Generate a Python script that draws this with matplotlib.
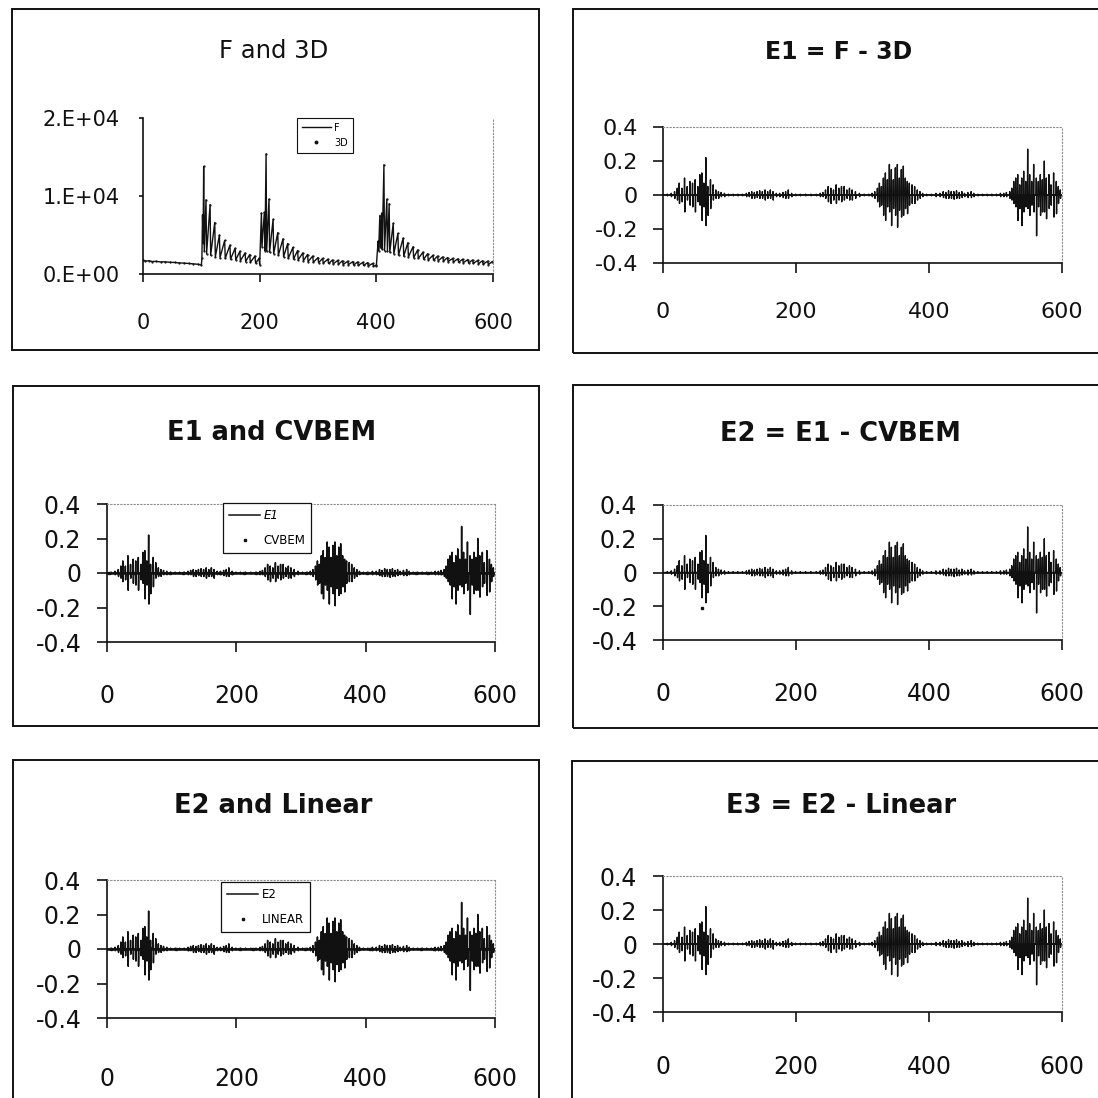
import matplotlib
matplotlib.use("Agg")
import matplotlib.pyplot as plt
from matplotlib.patches import Rectangle

# ---------------- data ----------------
# F: flat start, then three sawtooth cycles (trough -> peak pairs)
f_base_x = [0, 4, 10, 16, 22, 30, 38, 46, 54, 62, 70, 78, 86, 94, 100]
f_base_y = [1800, 1650, 1700, 1600, 1620, 1550, 1560, 1500, 1480, 1420, 1400, 1350, 1300, 1250, 1150]

f_trough_x = [101, 103, 105, 109, 116, 124, 132, 141, 150, 159, 167, 176, 184, 193,
              200, 204, 209, 212, 217, 224, 232, 241, 249, 258, 266, 275, 283, 292, 301,
              309, 318, 326, 335, 343, 352, 361, 369, 378, 386, 395,
              400, 404, 407, 410, 414, 419, 423, 430, 438, 447, 455, 464, 472, 481, 489,
              498, 506, 515, 523, 532, 541, 549, 558, 566, 575, 583, 592]
f_trough_y = [2000, 4000, 3000, 2600, 2400, 2200, 2100, 2000, 1900, 1800, 1700, 1600, 1500, 1400,
              1200, 3500, 3000, 3000, 2800, 2600, 2400, 2200, 2000, 1900, 1800, 1700, 1600, 1500, 1450,
              1400, 1350, 1300, 1250, 1200, 1200, 1150, 1100, 1100, 1050, 1000,
              1000, 3000, 3500, 3200, 3000, 3000, 2800, 2600, 2400, 2300, 2200, 2100, 2000, 1900, 1800,
              1750, 1700, 1650, 1600, 1550, 1500, 1450, 1400, 1350, 1300, 1250, 1200]
f_peak_x = [102, 104, 108, 115, 123, 131, 140, 149, 158, 166, 175, 183, 192, 199,
            203, 208, 211, 216, 223, 231, 240, 248, 257, 265, 274, 282, 291, 300, 308,
            317, 325, 334, 342, 351, 360, 368, 377, 385, 394, 399,
            403, 406, 409, 413, 418, 422, 429, 437, 446, 454, 463, 471, 480, 488, 497,
            505, 514, 522, 531, 540, 548, 557, 565, 574, 582, 591, 599]
f_peak_y = [7600, 13800, 9500, 8900, 6600, 5000, 4300, 3700, 3300, 2900, 2700, 2500, 2300, 2000,
            7800, 7900, 15400, 9600, 7000, 5300, 4500, 3900, 3400, 3000, 2700, 2500, 2300, 2100, 2000,
            1900, 1800, 1750, 1700, 1650, 1600, 1550, 1500, 1450, 1350, 1100,
            4200, 7500, 7800, 14000, 9600, 9000, 6500, 5200, 4600, 4000, 3500, 3100, 2800, 2600, 2400,
            2300, 2200, 2100, 2000, 1950, 1900, 1850, 1800, 1750, 1700, 1650, 1600]

# E1 (and the visually identical E2, E3): spikes (position, upper value, lower value)
e1_spike_x = [0, 6, 12,
              17, 21, 24, 28, 32, 36, 40, 44, 48, 52, 55, 58, 61, 64, 67, 71, 75, 79, 83, 87,
              92, 98, 105, 112, 119, 125,
              129, 133, 137, 141, 145, 149, 153, 157, 161, 165, 170, 175, 180, 184, 188, 193,
              199, 206, 214, 222, 230, 236, 240,
              244, 248, 252, 256, 260, 264, 268, 272, 276, 280, 284, 289,
              295, 302, 309, 314,
              318, 322, 325, 328, 331, 334, 337, 340, 343, 346, 349, 352, 355, 358, 361, 364, 367,
              370, 374, 378, 382, 386, 390,
              396, 403, 410, 416,
              421, 425, 429, 433, 437, 441, 445, 449, 453, 458, 463, 467,
              473, 480, 487, 494, 501, 507, 512, 516,
              521, 524, 527, 530, 533, 536, 539, 542, 545, 548, 551, 554, 557, 561, 564, 567, 570,
              573, 576, 580, 583, 587, 591, 594, 597]
e1_hi = [0.0, 0.005, 0.01,
         0.02, 0.04, 0.07, 0.04, 0.1, 0.05, 0.08, 0.07, 0.09, 0.05, 0.12, 0.13, 0.07, 0.22, 0.05,
         0.09, 0.06, 0.03, 0.02, 0.015,
         0.01, 0.005, 0.005, 0.005, 0.005, 0.01,
         0.015, 0.02, 0.015, 0.02, 0.025, 0.02, 0.03, 0.02, 0.03, 0.02, 0.01, 0.01, 0.015, 0.02,
         0.03, 0.01,
         0.005, 0.005, 0.005, 0.005, 0.005, 0.01, 0.015,
         0.03, 0.05, 0.04, 0.03, 0.06, 0.04, 0.05, 0.05, 0.03, 0.04, 0.03, 0.02,
         0.01, 0.005, 0.005, 0.01,
         0.02, 0.04, 0.07, 0.05, 0.1, 0.13, 0.09, 0.18, 0.15, 0.09, 0.16, 0.18, 0.1, 0.15, 0.17,
         0.1, 0.08, 0.07, 0.06, 0.05, 0.03, 0.02, 0.01,
         0.005, 0.005, 0.01, 0.01,
         0.02, 0.015, 0.025, 0.02, 0.02, 0.025, 0.015, 0.02, 0.01, 0.015, 0.02, 0.01,
         0.005, 0.005, 0.005, 0.005, 0.005, 0.01, 0.01, 0.015,
         0.02, 0.04, 0.08, 0.1, 0.12, 0.06, 0.1, 0.14, 0.08, 0.27, 0.12, 0.08, 0.18, 0.1, 0.08,
         0.12, 0.09, 0.2, 0.1, 0.12, 0.06, 0.13, 0.08, 0.05, 0.03]
e1_lo = [0.0, -0.005, -0.01,
         -0.02, -0.03, -0.05, -0.04, -0.1, -0.03, -0.06, -0.07, -0.1, -0.04, -0.06, -0.15, -0.07,
         -0.18, -0.12, -0.08, -0.03, -0.02, -0.02, -0.01,
         -0.01, -0.005, -0.005, -0.005, -0.005, -0.01,
         -0.01, -0.02, -0.02, -0.015, -0.02, -0.02, -0.03, -0.02, -0.02, -0.03, -0.01, -0.01,
         -0.015, -0.02, -0.02, -0.01,
         -0.005, -0.005, -0.005, -0.005, -0.005, -0.01, -0.01,
         -0.02, -0.04, -0.05, -0.03, -0.05, -0.03, -0.04, -0.03, -0.02, -0.03, -0.03, -0.02,
         -0.01, -0.005, -0.005, -0.01,
         -0.02, -0.04, -0.07, -0.06, -0.12, -0.15, -0.07, -0.1, -0.18, -0.08, -0.12, -0.19,
         -0.09, -0.13, -0.12, -0.08, -0.11, -0.06, -0.05, -0.05, -0.03, -0.02, -0.01,
         -0.005, -0.005, -0.01, -0.01,
         -0.015, -0.02, -0.02, -0.02, -0.025, -0.02, -0.02, -0.015, -0.01, -0.015, -0.015, -0.01,
         -0.005, -0.005, -0.005, -0.005, -0.005, -0.01, -0.01, -0.01,
         -0.02, -0.03, -0.05, -0.07, -0.15, -0.08, -0.18, -0.1, -0.07, -0.08, -0.12, -0.06, -0.1,
         -0.24, -0.07, -0.12, -0.1, -0.1, -0.14, -0.08, -0.06, -0.13, -0.11, -0.05, -0.02]
e_baseline = 0.0   # the error series returns to zero between spikes

# model series plotted as dots (they lie on the zero line at this scale)
cvbem_x = [3, 22, 41, 60, 79, 98, 117, 136, 155, 174, 193, 212, 231, 250, 269, 288, 307, 326,
           345, 364, 383, 402, 421, 440, 459, 478, 497, 516, 535, 554, 573, 592]
cvbem_y = [0.0, 0.002, -0.002, 0.004, 0.0, 0.001, 0.0, -0.001, 0.002, 0.0, -0.001, 0.0, 0.0,
           0.002, -0.002, 0.001, 0.0, 0.003, -0.003, 0.002, 0.0, 0.0, 0.001, -0.001, 0.0, 0.0,
           0.0, 0.001, 0.003, -0.003, 0.002, 0.001]
linear_x = [6, 26, 46, 66, 86, 106, 126, 146, 166, 186, 206, 226, 246, 266, 286, 306, 326, 346,
            366, 386, 406, 426, 446, 466, 486, 506, 526, 546, 566, 586]
linear_y = [0.0, 0.002, -0.002, 0.003, 0.0, 0.0, 0.001, -0.001, 0.0, 0.001, 0.0, 0.0, 0.001,
            -0.001, 0.0, 0.0, 0.002, -0.002, 0.001, 0.0, 0.0, 0.001, 0.0, 0.0, 0.0, 0.0, 0.002,
            -0.002, 0.001, 0.0]
e2_stray_x = [58]
e2_stray_y = [-0.21]

x_ticks = [0, 200, 400, 600]
f_ticks = [0, 10000, 20000]
f_tick_labels = ["0.E+00", "1.E+04", "2.E+04"]
e_ticks = [-0.4, -0.2, 0, 0.2, 0.4]
e_tick_labels = ["-0.4", "-0.2", "0", "0.2", "0.4"]

titles = ["F and 3D", "E1 = F - 3D", "E1 and CVBEM", "E2 = E1 - CVBEM",
          "E2 and Linear", "E3 = E2 - Linear"]

# ---------------- assemble vertex sequences ----------------
f_x = list(f_base_x)
f_y = list(f_base_y)
for tx, ty, px, py in zip(f_trough_x, f_trough_y, f_peak_x, f_peak_y):
    f_x += [tx, px]
    f_y += [ty, py]
d3_x, d3_y = f_x, f_y   # the 3D model coincides with F at this scale

e1_x, e1_y = [], []
for sx, hi, lo in zip(e1_spike_x, e1_hi, e1_lo):
    e1_x += [sx, sx + 0.4, sx + 0.8, sx + 1.2]
    e1_y += [e_baseline, hi, lo, e_baseline]
e2_x, e2_y = e1_x, e1_y
e3_x, e3_y = e1_x, e1_y

# ---------------- figure ----------------
W = H = 1098
fig = plt.figure(figsize=(W / 100, H / 100), dpi=100)
fig.patch.set_facecolor("white")
FONT = "DejaVu Sans"


def frame(x0, y0, x1, y1):
    fig.add_artist(Rectangle((x0 / W, 1 - y1 / H), (x1 - x0) / W, (y1 - y0) / H,
                             transform=fig.transFigure, fill=False, lw=1.4, ec="#111111"))


def add_ax(x0, y0, x1, y1):
    return fig.add_axes([x0 / W, 1 - y1 / H, (x1 - x0) / W, (y1 - y0) / H])


def title(cx, cy, s, size, weight):
    fig.text(cx / W, 1 - cy / H, s, ha="center", va="center", fontsize=size,
             fontweight=weight, family=FONT, color="#111111")


def style(ax, ylo, yhi, yt, ytl, size, ylen, xlen, ypad, xpad):
    ax.set_xlim(0, 600)
    ax.set_ylim(ylo, yhi)
    ax.set_xticks(x_ticks)
    ax.set_xticklabels([str(v) for v in x_ticks])
    ax.set_yticks(yt)
    ax.set_yticklabels(ytl)
    for lab in ax.get_xticklabels() + ax.get_yticklabels():
        lab.set_family(FONT)
        lab.set_fontsize(size)
        lab.set_color("#111111")
    ax.tick_params(axis="y", direction="out", length=ylen, width=1.1, pad=ypad)
    ax.tick_params(axis="x", direction="out", length=xlen, width=1.1, pad=xpad)
    for side in ("left", "bottom"):
        ax.spines[side].set_linewidth(1.2)
        ax.spines[side].set_color("#111111")
    for side in ("top", "right"):
        ax.spines[side].set_linestyle((0, (1, 2)))
        ax.spines[side].set_linewidth(0.8)
        ax.spines[side].set_color("0.55")
    ax.set_facecolor("white")


# panel frames
frame(12, 9, 539, 350)
frame(573, 9, 1110, 353)
frame(13, 386, 539, 726)
frame(573, 385, 1110, 728)
frame(13, 760, 539, 1110)
frame(572, 761, 1110, 1110)

# titles
title(274, 51, titles[0], 17.5, "normal")
title(839, 52, titles[1], 17, "bold")
title(272, 433, titles[2], 18.5, "bold")
title(840, 434, titles[3], 18.5, "bold")
title(273, 806, titles[4], 18.5, "bold")
title(841, 806, titles[5], 18.5, "bold")

leg_kw = dict(frameon=True, fancybox=False, shadow=False, framealpha=1,
              edgecolor="#111111", borderaxespad=0, borderpad=0.5, handletextpad=0.3)

# ---- panel 1: F and 3D
ax1 = add_ax(143, 118, 493, 274)
ax1.plot(f_x, f_y, color="#111111", lw=1.0, label="F")
ax1.plot(d3_x, d3_y, ls="none", marker=".", ms=1.2, color="#111111", label="3D")
style(ax1, 0, 20000, f_ticks, f_tick_labels, 15, 3, 6, 14, 22)
ax1.spines["top"].set_visible(False)
lg = ax1.legend(loc="upper left", bbox_to_anchor=(0.44, 1.0), prop={"family": FONT, "size": 7},
                handlelength=3.0, labelspacing=0.5, markerscale=3, **leg_kw)
lg.get_frame().set_linewidth(0.8)

# ---- panel 2: E1 = F - 3D
ax2 = add_ax(663, 127, 1062, 263)
ax2.plot(e1_x, e1_y, color="#111111", lw=1.0)
ax2.axhline(0, color="#111111", lw=1.2, zorder=1)
style(ax2, -0.4, 0.4, e_ticks, e_tick_labels, 16, 7, 7, 11, 21)

# ---- panel 3: E1 and CVBEM
ax3 = add_ax(107, 504, 495, 642)
ax3.plot(e1_x, e1_y, color="#111111", lw=1.1, label="E1")
ax3.plot(cvbem_x, cvbem_y, ls="none", marker="s", ms=1.5, color="#111111", label="CVBEM")
style(ax3, -0.4, 0.4, e_ticks, e_tick_labels, 17, 7.5, 7, 11, 23)
ax3.axhline(0, color="#111111", lw=1.8, zorder=1)
lg = ax3.legend(loc="upper left", bbox_to_anchor=(0.30, 1.005), prop={"family": FONT, "size": 8.5},
                handlelength=2.6, labelspacing=1.0, markerscale=1.3, **leg_kw)
lg.get_frame().set_linewidth(0.9)
lg.get_texts()[0].set_fontstyle("italic")

# ---- panel 4: E2 = E1 - CVBEM
ax4 = add_ax(663, 505, 1062, 640)
ax4.plot(e2_x, e2_y, color="#111111", lw=1.0)
ax4.axhline(0, color="#111111", lw=1.2, zorder=1)
ax4.plot(e2_stray_x, e2_stray_y, ls="none", marker="s", ms=1.8, color="#111111")
style(ax4, -0.4, 0.4, e_ticks, e_tick_labels, 17, 7.5, 7, 11, 23)

# ---- panel 5: E2 and Linear
ax5 = add_ax(107, 880, 495, 1018)
ax5.plot(e2_x, e2_y, color="#111111", lw=1.1, label="E2")
ax5.plot(linear_x, linear_y, ls="none", marker="s", ms=1.5, color="#111111", label="LINEAR")
style(ax5, -0.4, 0.4, e_ticks, e_tick_labels, 17, 7.5, 7, 11, 28)
ax5.axhline(0, color="#111111", lw=1.8, zorder=1)
lg = ax5.legend(loc="upper left", bbox_to_anchor=(0.295, 0.985), prop={"family": FONT, "size": 8.5},
                handlelength=2.6, labelspacing=1.0, markerscale=1.3, **leg_kw)
lg.get_frame().set_linewidth(0.9)

# ---- panel 6: E3 = E2 - Linear
ax6 = add_ax(663, 876, 1062, 1012)
ax6.plot(e3_x, e3_y, color="#111111", lw=1.0)
ax6.axhline(0, color="#111111", lw=1.2, zorder=1)
style(ax6, -0.4, 0.4, e_ticks, e_tick_labels, 17, 7.5, 7, 11, 24)

fig.savefig("out.png", dpi=100, facecolor="white")
